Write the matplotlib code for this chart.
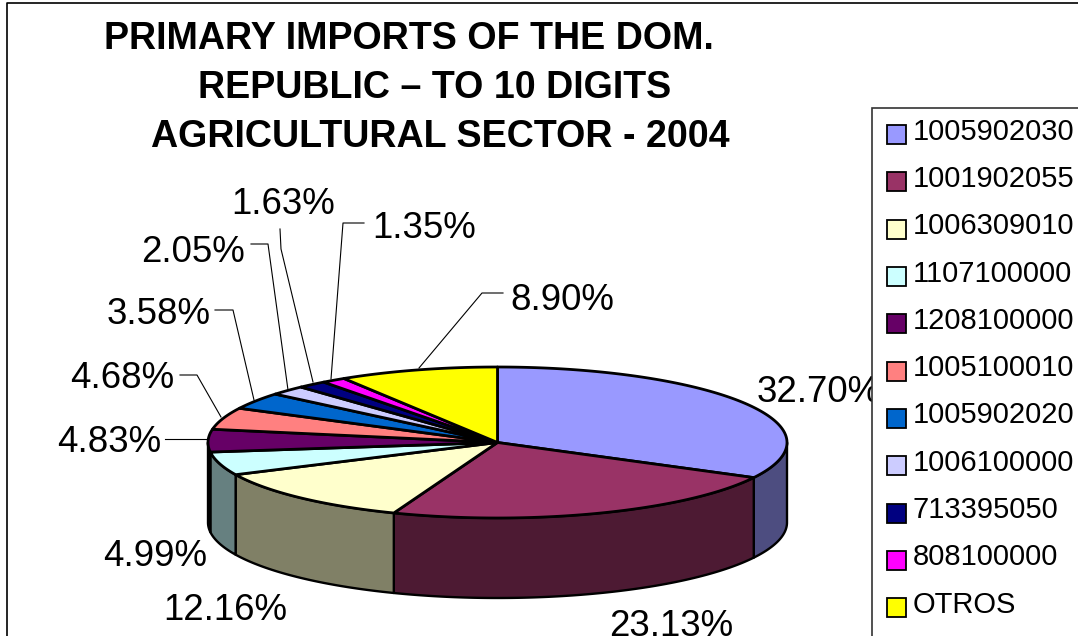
import numpy as np
import matplotlib
matplotlib.use("Agg")
import matplotlib.pyplot as plt
from matplotlib.patches import Polygon, Rectangle

# ---------------------- data ----------------------
codes = ["1005902030", "1001902055", "1006309010", "1107100000", "1208100000",
         "1005100010", "1005902020", "1006100000", "713395050", "808100000", "OTROS"]
shares = [32.70, 23.13, 12.16, 4.99, 4.83, 4.68, 3.58, 2.05, 1.63, 1.35, 8.90]
colors = ["#9999FF", "#993366", "#FFFFCC", "#CCFFFF", "#660066", "#FF8080",
          "#0066CC", "#CCCCFF", "#000080", "#FF00FF", "#FFFF00"]
title_lines = ["PRIMARY IMPORTS OF THE DOM.", "REPUBLIC \u2013 TO 10 DIGITS",
               "AGRICULTURAL SECTOR - 2004"]

# pie geometry in pixels
CX, CY = 497.5, 442.5
RX, RY = 289.5, 75.5
DEPTH = 80

plt.rcParams["font.family"] = ["Liberation Sans", "DejaVu Sans"]

fig = plt.figure(figsize=(10.78, 6.36), dpi=100)
ax = fig.add_axes([0, 0, 1, 1])
ax.set_xlim(0, 1078)
ax.set_ylim(636, 0)
ax.axis("off")


def rim(t0, t1, dy=0):
    # angle is clockwise from 12 o'clock, as excel does it
    t = np.radians(np.linspace(t0, t1, max(2, int(abs(t1 - t0) * 2) + 2)))
    return np.column_stack([CX + RX * np.sin(t), CY - RY * np.cos(t) + dy])


def darken(col):
    rgb = matplotlib.colors.to_rgb(col)
    return tuple(c * 0.5 for c in rgb)


# chart frame runs off the right and bottom of the picture
ax.plot([7, 7, 1078], [636, 3, 3], color="black", lw=1.2, zorder=1)

# ---------------------- pie ----------------------
edges = np.concatenate([[0], np.cumsum(shares)]) * 3.6

# side walls only on the front half (90..270)
for i, col in enumerate(colors):
    a, b = max(edges[i], 90), min(edges[i + 1], 270)
    if a >= b:
        continue
    top = rim(a, b)
    bottom = rim(b, a, DEPTH)
    ax.add_patch(Polygon(np.vstack([top, bottom]), closed=True, fc=darken(col),
                         ec="black", lw=1.7, joinstyle="round", zorder=2))

for i, col in enumerate(colors):
    pts = np.vstack([[CX, CY], rim(edges[i], edges[i + 1])])
    ax.add_patch(Polygon(pts, closed=True, fc=col, ec="black", lw=2,
                         joinstyle="round", zorder=3))

# ---------------------- labels ----------------------
label_pos = [(757, 392), (609, 627), (163, 610), (103, 556), (57, 443), (70, 379),
             (107, 315), (141, 252), (231, 205), (372, 228), (510, 300)]
leaders = [None, None, None, None,
           [(165, 439), (208, 439)],
           [(180, 375), (197, 375), (221, 417)],
           [(215, 310), (233, 310), (254, 400)],
           [(251, 244), (268, 244), (288, 390)],
           [(280, 229), (281, 249), (313, 382)],
           [(364, 223), (343, 223), (331, 379)],
           [(503, 293), (482, 293), (419, 368)]]

for val, (x, y), line in zip(shares, label_pos, leaders):
    ax.text(x, y, f"{val:.2f}%", fontsize=26.4, ha="left", va="center",
            color="black", zorder=5)
    if line is not None:
        xs, ys = zip(*line)
        ax.plot(xs, ys, color="black", lw=0.8, zorder=4)

title_x = [408.5, 435, 440.5]
title_y = [39, 88.5, 137]
for line, x, y in zip(title_lines, title_x, title_y):
    ax.text(x, y, line, fontsize=27.1, fontweight="bold", ha="center",
            va="center", color="black", zorder=5)

# ---------------------- legend ----------------------
ax.add_patch(Rectangle((872, 108), 220, 540, fc="white", ec="#333333", lw=1.2, zorder=6))
for i, (code, col) in enumerate(zip(codes, colors)):
    y = 134.6 + 47.3 * i
    ax.add_patch(Rectangle((887, y - 9.5), 19, 19, fc=col, ec="black", lw=1.3, zorder=7))
    ax.text(913, y - 3, code, fontsize=21, ha="left", va="center", color="black", zorder=7)

fig.savefig("out.png", dpi=100, facecolor="white")
